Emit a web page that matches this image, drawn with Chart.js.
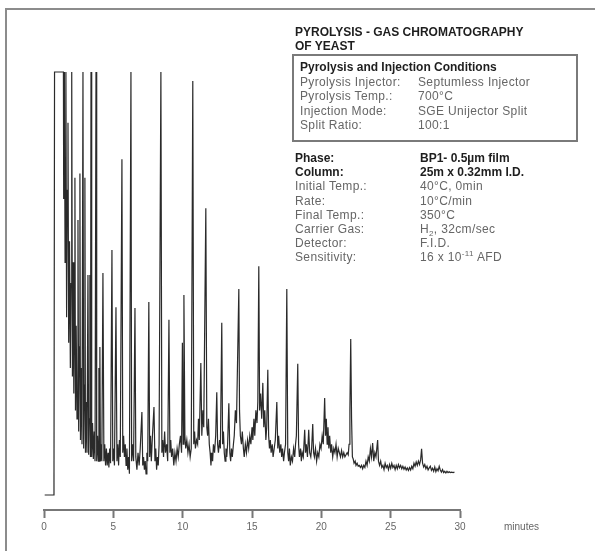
<!DOCTYPE html>
<html>
<head>
<meta charset="utf-8">
<script src="https://cdn.jsdelivr.net/npm/chart.js@4/dist/chart.umd.min.js"></script>
<style>
  html,body{margin:0;padding:0;background:#fff;}
  #wrap{position:relative;width:595px;height:551px;overflow:hidden;font-family:"Liberation Sans",Arial,Helvetica,sans-serif;}
  #wrap canvas{position:absolute;left:0;top:0;}
  .frameTop{position:absolute;left:5px;top:8px;width:590px;height:0;border-top:2.5px solid #8c8c8c;}
  .frameLeft{position:absolute;left:5px;top:8px;width:0;height:543px;border-left:2.5px solid #8c8c8c;}
  .t{position:absolute;white-space:nowrap;font-size:12px;line-height:14px;}
  .title{font-weight:bold;color:#1e1e1e;}
  .bold{font-weight:bold;color:#1e1e1e;}
  .lab{color:#666;letter-spacing:0.35px;}
  .box{position:absolute;left:292px;top:54px;width:286px;height:88px;border:2px solid #7a7a7a;box-sizing:border-box;}
  .axisText{position:absolute;font-size:10px;color:#666;white-space:nowrap;}
</style>
</head>
<body>
<div id="wrap">
  <canvas id="c" width="595" height="551"></canvas>
  <div class="frameTop"></div>
  <div class="frameLeft"></div>
  <div id="info"></div>
  <div class="axisText" style="left:504px;top:521px;">minutes</div>
</div>
<script>
// ---- Data (retention time in minutes, detector signal in arbitrary units; 100 = off-scale) ----
const solventRegion = [
  [0.05,0],[0.70,0],[0.72,3],[0.76,100],[0.80,100],[1.40,100],[1.42,70],[1.47,100],[1.52,55],[1.58,100],
  [1.63,42],[1.68,72],[1.73,88],[1.78,36],[1.84,60],[1.90,30],[1.95,50],[2.00,100],[2.05,28],[2.10,55],
  [2.15,24],[2.20,45],[2.23,75],[2.27,20],[2.32,40],[2.38,18],[2.45,65],[2.50,15],[2.55,35],[2.59,76],
  [2.63,13],[2.68,30],[2.74,12],[2.81,100],[2.86,11],[2.92,26],[2.95,75],[2.99,10],[3.04,22],[3.10,10],
  [3.17,52],[3.22,9.5],[3.26,18],[3.31,52],[3.35,9],[3.39,100],[3.44,9],[3.50,17],[3.56,8.5],[3.62,15],
  [3.68,8],[3.75,100],[3.80,8],[3.86,14],[3.92,8],[3.96,30],[4.00,8],[4.03,35],[4.07,8],[4.12,12],
  [4.17,8],[4.25,52.5],[4.32,8],[4.38,12],[4.44,7],[4.50,11],[4.56,7],[4.62,10],[4.68,6.5],[4.74,11],
  [4.80,7.5],[4.90,57.9],[4.96,8]
];
const region5to10 = [
  [5.02,11],[5.08,7],[5.19,44.4],[5.26,8],[5.32,12],[5.38,7],[5.44,13],[5.50,9],[5.62,79.4],[5.68,10],
  [5.74,14],[5.80,9],[5.86,12],[5.92,7],[5.98,11],[6.04,6],[6.10,9],[6.16,5],[6.27,100],[6.32,8],
  [6.40,12],[6.46,8],[6.56,44.2],[6.62,9],[6.70,6],[6.78,10],[6.86,7],[6.94,11],[7.06,19.6],[7.12,7],
  [7.18,9],[7.24,6],[7.30,8],[7.36,5],[7.42,10],[7.48,8],[7.56,45.6],[7.62,9],[7.68,14],[7.74,8],
  [7.82,14],[7.93,20.8],[8.00,8],[8.06,11],[8.12,6],[8.18,9],[8.24,7],[8.30,12],[8.43,100],[8.50,10],
  [8.56,13],[8.62,9],[8.70,15],[8.76,10],[8.84,12],[8.92,8],[9.01,41.4],[9.08,10],[9.14,13],[9.20,9],
  [9.28,11],[9.36,7],[9.44,10],[9.52,8],[9.60,11],[9.68,9],[9.76,12],[9.84,14],[9.92,10],[9.98,36],
  [10.04,12]
];
const region10to15 = [
  [10.09,47.3],[10.16,14],[10.22,11],[10.30,13],[10.38,10],[10.46,12],[10.54,9],[10.62,11],[10.73,97.9],[10.80,12],
  [10.86,15],[10.92,11],[11.00,13],[11.08,12],[11.14,18],[11.20,13],[11.31,31.2],[11.38,14],[11.46,20],[11.52,16],
  [11.67,67.8],[11.74,16],[11.80,14],[11.86,18],[11.92,12],[11.98,10],[12.04,7],[12.10,10],[12.16,8],[12.22,12],
  [12.30,10],[12.38,14],[12.46,24.3],[12.52,12],[12.58,10],[12.66,13],[12.72,11],[12.82,40.7],[12.88,12],[12.94,15],
  [13.00,10],[13.06,8],[13.12,11],[13.18,9],[13.24,12],[13.33,21.7],[13.40,10],[13.46,8],[13.52,11],[13.58,9],
  [13.66,12],[13.72,14],[13.80,20],[13.88,17],[14.05,48.7],[14.10,20],[14.16,14],[14.24,12],[14.30,15],[14.38,11],
  [14.44,9],[14.52,12],[14.60,10],[14.68,13],[14.76,11],[14.84,14],[14.92,12]
];
const region15to20 = [
  [15.00,16],[15.06,13],[15.14,18],[15.20,14],[15.28,20],[15.36,17],[15.42,22],[15.49,54.1],[15.55,20],[15.62,24],
  [15.70,18],[15.78,26.5],[15.85,16],[15.92,20],[16.00,13],[16.06,16],[16.14,29.6],[16.20,14],[16.26,11],[16.32,13],
  [16.38,10],[16.46,12],[16.52,9],[16.60,11],[16.68,13],[16.79,22],[16.86,11],[16.92,14],[17.00,10],[17.08,12],
  [17.14,9],[17.20,11],[17.28,8],[17.34,10],[17.42,12],[17.51,48.7],[17.58,10],[17.64,8],[17.70,11],[17.76,7],
  [17.84,9],[17.92,8],[18.00,11],[18.08,9],[18.14,12],[18.20,14],[18.30,31],[18.36,12],[18.42,9],[18.50,11],
  [18.56,8],[18.62,10],[18.70,9],[18.80,15.4],[18.86,10],[18.92,12],[19.00,9],[19.09,15.4],[19.16,10],[19.24,9],
  [19.30,11],[19.38,16.8],[19.44,10],[19.50,9],[19.58,11],[19.66,8],[19.74,10],[19.82,9],[19.90,12],[19.98,11]
];
const region20to30 = [
  [20.06,14],[20.14,12],[20.24,22.9],[20.30,14],[20.36,18],[20.42,12],[20.48,16],[20.54,11],[20.60,14],[20.68,10],
  [20.74,12],[20.82,9],[20.90,11],[20.98,10],[21.06,12],[21.14,9],[21.22,11],[21.30,10],[21.38,9],[21.46,10.5],
  [21.54,9],[21.62,10],[21.70,9],[21.78,9.5],[21.86,10],[21.94,9.5],[22.00,12],[22.06,20],[22.12,36.9],[22.18,18],
  [22.24,9],[22.30,8.5],[22.36,7.5],[22.44,8],[22.50,7],[22.58,7.5],[22.66,6.8],[22.74,7],[22.82,6.5],[22.90,7],
  [22.98,6.2],[23.06,7],[23.14,6.5],[23.22,8],[23.30,7],[23.38,9],[23.46,8],[23.54,11],[23.62,9],[23.70,12.3],
  [23.78,8],[23.86,10],[23.94,9],[24.00,11],[24.06,13],[24.12,8],[24.20,7],[24.28,8],[24.36,6.5],[24.44,7],
  [24.52,6],[24.60,7.5],[24.68,6.5],[24.76,7],[24.84,6],[24.92,7.2],[25.00,6.3],[25.08,7.5],[25.16,6.5],[25.24,7],
  [25.32,6],[25.40,7],[25.48,6.2],[25.56,7.2],[25.64,6.4],[25.72,7],[25.80,6.2],[25.88,6.8],[25.96,6.1],[26.04,6.6],
  [26.12,5.9],[26.20,6.4],[26.28,5.8],[26.36,6.5],[26.44,5.9],[26.52,6.8],[26.60,6.2],[26.68,7.5],[26.76,6.8],[26.84,7.8],
  [26.92,7],[27.00,8],[27.08,7.2],[27.16,8.3],[27.23,10.9],[27.30,7.5],[27.38,6.6],[27.46,7.2],[27.54,6.2],[27.62,6.8],
  [27.70,5.9],[27.78,6.4],[27.86,6.8],[27.94,5.8],[28.02,6.3],[28.10,5.6],[28.18,6.6],[28.26,5.5],[28.34,6.2],[28.42,5.7],
  [28.50,6.8],[28.58,5.9],[28.66,5.4],[28.74,6.0],[28.82,5.3],[28.90,5.6],[28.98,5.2],[29.06,5.6],[29.14,5.3],[29.22,5.5],
  [29.30,5.3],[29.40,5.4],[29.50,5.3],[29.60,5.4]
];
const xTickValues = [0, 5, 10, 15, 20, 25, 30];

const titleLines = ["PYROLYSIS - GAS CHROMATOGRAPHY", "OF YEAST"];
const boxHeader = "Pyrolysis and Injection Conditions";
const boxLabels = ["Pyrolysis Injector:", "Pyrolysis Temp.:", "Injection Mode:", "Split Ratio:"];
const boxValues = ["Septumless Injector", "700°C", "SGE Unijector Split", "100:1"];
const colLabels = ["Phase:", "Column:", "Initial Temp.:", "Rate:", "Final Temp.:", "Carrier Gas:", "Detector:", "Sensitivity:"];
const colValues = ["BP1- 0.5µm film", "25m x 0.32mm I.D.", "40°C, 0min", "10°C/min", "350°C", "H<sub>2</sub>, 32cm/sec", "F.I.D.", "16 x 10<sup>-11</sup> AFD"];
const boldRows = 2;

// ---- Info panel text ----
const info = document.getElementById('info');
function addText(cls, left, centerY, html){
  const d = document.createElement('div');
  d.className = 't ' + cls;
  d.style.left = left + 'px';
  d.style.top = (centerY - 7) + 'px';
  d.innerHTML = html;
  info.appendChild(d);
}
titleLines.forEach((s,i)=>addText('title', 295, 32 + i*13.5, s));
const box = document.createElement('div'); box.className='box'; info.appendChild(box);
addText('bold', 300, 67, boxHeader);
boxLabels.forEach((s,i)=>{ addText('lab', 300, 81.5 + i*14.5, s); addText('lab', 418, 81.5 + i*14.5, boxValues[i]); });
colLabels.forEach((s,i)=>{
  const cls = i < boldRows ? 'bold' : 'lab';
  addText(cls, 295, 158 + i*14.2, s);
  addText(cls, 420, 158 + i*14.2, colValues[i]);
});
document.querySelectorAll('sub,sup').forEach(e=>{e.style.fontSize='8px';e.style.lineHeight='0';});

// ---- Chart ----
const points = [].concat(solventRegion, region5to10, region10to15, region15to20, region20to30)
  .map(p => ({x: p[0], y: p[1]}));

new Chart(document.getElementById('c'), {
  type: 'line',
  data: {
    datasets: [{
      data: points,
      borderColor: '#2a2a2a',
      borderWidth: 1.2,
      pointRadius: 0,
      tension: 0,
      fill: false,
      clip: 3
    }]
  },
  options: {
    responsive: false,
    animation: false,
    events: [],
    layout: { padding: { left: 44, right: 135, top: 72, bottom: 0 } },
    plugins: { legend: { display: false }, tooltip: { enabled: false } },
    scales: {
      x: {
        type: 'linear',
        min: 0, max: 30,
        afterBuildTicks: (scale) => { scale.ticks = xTickValues.map(v => ({value: v})); },
        afterFit: (scale) => { scale.height = 41; },
        border: { display: true, color: '#777', width: 2 },
        grid: { display: true, drawOnChartArea: false, drawTicks: true, tickLength: 8, tickColor: '#777', tickWidth: 2 },
        ticks: { color: '#666', font: { size: 10, family: 'Liberation Sans' }, padding: 3, maxRotation: 0 }
      },
      y: {
        display: false,
        min: -3.55, max: 100
      }
    }
  }
});
</script>
</body>
</html>
